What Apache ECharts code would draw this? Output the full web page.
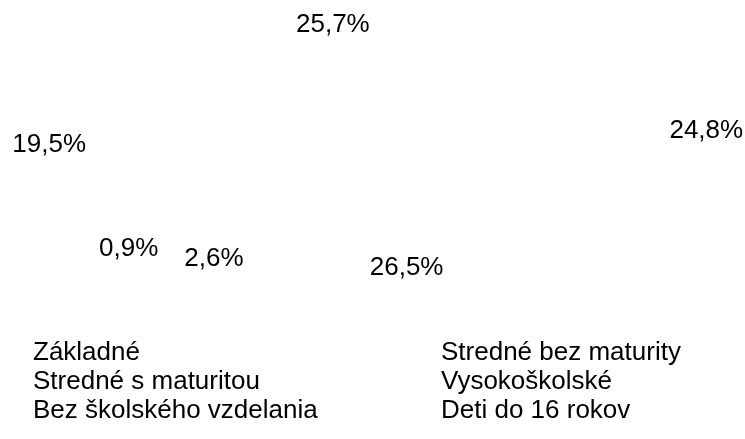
<!DOCTYPE html>
<html>
<head>
<meta charset="utf-8">
<script src="https://cdn.jsdelivr.net/npm/echarts@6/dist/echarts.min.js"></script>
<style>
  html, body { margin: 0; padding: 0; background: #fff; }
  #chart { width: 745px; height: 439px; }
</style>
</head>
<body>
<div id="chart"></div>
<script>
const categories = [
  'Základné',
  'Stredné bez maturity',
  'Stredné s maturitou',
  'Vysokoškolské',
  'Bez školského vzdelania',
  'Deti do 16 rokov'
]
const shares = [25.7, 24.8, 26.5, 2.6, 0.9, 19.5]

const leftLegend = [categories[0], categories[2], categories[4]]
const rightLegend = [categories[1], categories[3], categories[5]]

// the original is a tilted (3D) pie: labels sit on an ellipse,
// thin slices get their label outside, below the side wall
const cx = 379
const cy = 146
const pieR = 123
const labelRx = 322
const labelRy = 119
const wallDepth = 31
const thinSlice = 5

const fontFamily = '"Liberation Sans", Arial, sans-serif'
const fontSize = 26

const chart = echarts.init(document.getElementById('chart'))

const legendBase = {
  orient: 'vertical',
  top: 335,
  itemWidth: 0,
  itemHeight: 0,
  itemGap: 3,
  icon: 'rect',
  selectedMode: false,
  textStyle: { color: '#000', fontFamily, fontSize }
}

const pctText = (v) => String(v).replace('.', ',') + '%'

chart.setOption({
  backgroundColor: '#fff',
  animation: false,
  legend: [
    { ...legendBase, left: 23, data: leftLegend },
    { ...legendBase, left: 431, data: rightLegend }
  ],
  series: [{
    type: 'pie',
    center: [cx, cy],
    radius: [0, pieR * 2],
    startAngle: 144.3,
    clockwise: true,
    avoidLabelOverlap: false,
    silent: true,
    itemStyle: { color: 'rgba(255,255,255,0)', borderWidth: 0 },
    emphasis: { disabled: true },
    label: {
      show: true,
      position: 'inside',
      color: '#000',
      fontFamily,
      fontSize,
      // thin-slice labels get en spaces so they stay apart when shifted
      formatter: (p) => p.value < thinSlice
        ? '\u2002' + pctText(p.value) + '\u2002'
        : pctText(p.value)
    },
    labelLine: { show: false },
    labelLayout: (params) => {
      const r = params.labelRect
      const px = r.x + r.width / 2
      const py = r.y + r.height / 2
      const thin = shares[params.dataIndex] < thinSlice
      return {
        x: cx + (px - cx) * labelRx / pieR,
        y: cy + (py - cy) * labelRy / pieR + (thin ? wallDepth : 0),
        moveOverlap: 'shiftX'
      }
    },
    data: categories.map((name, i) => ({ name, value: shares[i] }))
  }]
})
</script>
</body>
</html>
